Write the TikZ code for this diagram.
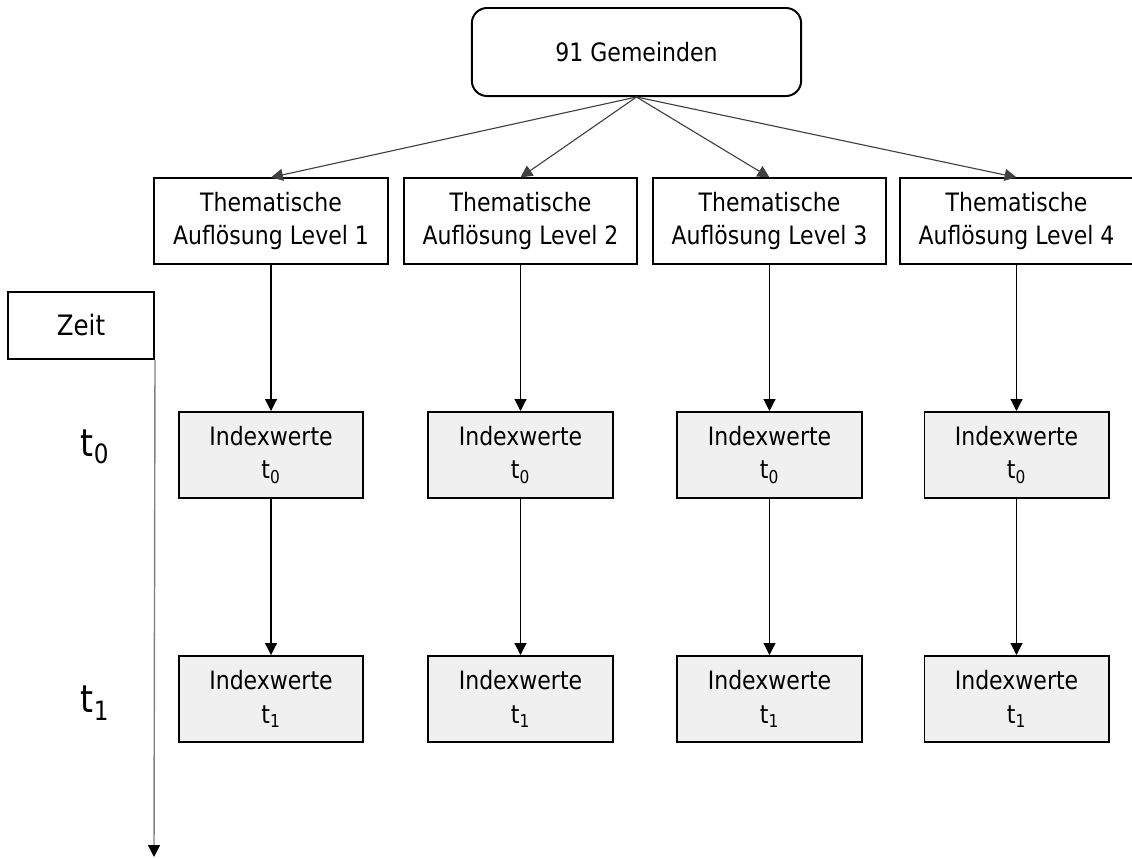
\documentclass[tikz,border=0pt]{standalone}
\usepackage{fontspec}
\setmainfont{DejaVu Sans}[FakeStretch=0.87]
\usetikzlibrary{arrows.meta}
\definecolor{boxgray}{HTML}{F0F0F0}
\definecolor{axisgray}{HTML}{808080}
\definecolor{linkgray}{HTML}{404040}

\begin{document}
\begin{tikzpicture}[x=0.025cm,y=-0.025cm,>={Triangle[length=8.5pt,width=8.5pt]},
  txt/.style={font=\fontsize{18}{24}\selectfont,align=center,inner sep=0pt},
  topbox/.style={txt,draw,line width=1.4pt,rounded corners=0.38cm,minimum width=8.23cm,minimum height=2.2cm},
  lvlbox/.style={txt,draw,line width=1.4pt,fill=white,minimum width=5.83cm,minimum height=2.13cm},
  idxbox/.style={txt,draw,line width=1.4pt,fill=boxgray,minimum width=4.6cm,minimum height=2.15cm},
  tlabel/.style={font=\fontsize{27}{30}\selectfont,inner sep=0pt}]
\useasboundingbox (0,0) rectangle (1132,858);
\node[topbox] (gem) at (636.5,52) {91 Gemeinden};
\foreach \n/\x in {1/271,2/520.5,3/769.5,4/1016.5}{
  \node[lvlbox] (lv\n) at (\x,221) {Thematische\\Aufl\"osung Level \n};
  \node[idxbox] (ia\n) at (\x,455) {Indexwerte\\t\textsubscript{0}};
  \node[idxbox] (ib\n) at (\x,699) {Indexwerte\\t\textsubscript{1}};
  \draw[linkgray,line width=0.8pt,->] (gem.south) -- (lv\n.north);
  \draw[line width=0.8pt,->] (lv\n.south) -- (ia\n.north);
  \draw[line width=0.8pt,->] (ia\n.south) -- (ib\n.north);
}
% time axis
\node[txt,font=\fontsize{20}{24}\selectfont,draw,line width=1.4pt,minimum width=3.65cm,minimum height=1.675cm] (zeit) at (81,325.5) {Zeit};
\coordinate (tend) at (154,857);
\draw[axisgray,line width=1pt,->,>={Triangle[length=8.5pt,width=8.5pt,color=black]}] (zeit.south east) -- (tend);
\node[tlabel] (t0) at (95,447) {t\textsubscript{0}};
\node[tlabel] (t1) at (95,703) {t\textsubscript{1}};
\end{tikzpicture}
\end{document}
